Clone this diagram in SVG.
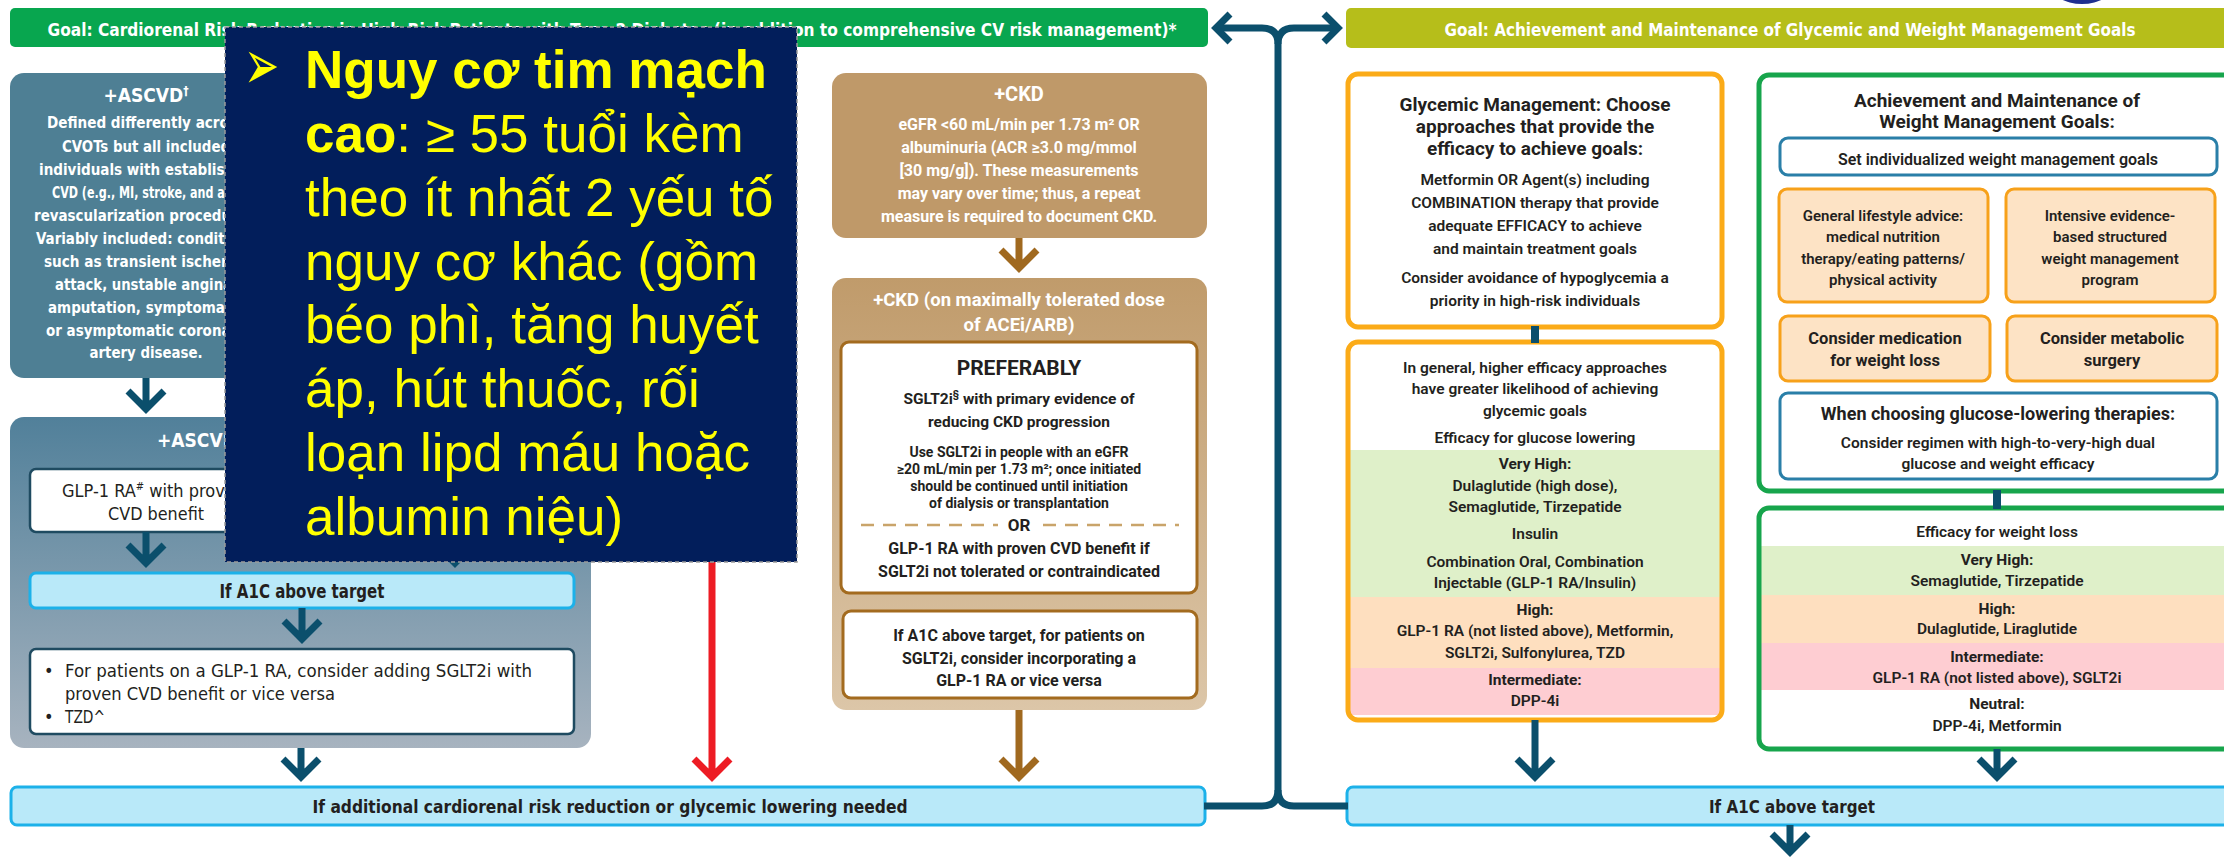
<svg xmlns="http://www.w3.org/2000/svg" width="2224" height="861" viewBox="0 0 2224 861">
<defs>
<linearGradient id="gAscvd" x1="0" y1="0" x2="0" y2="1"><stop offset="0" stop-color="#51809a"/><stop offset="1" stop-color="#a7b3bf"/></linearGradient>
<linearGradient id="gCkd" x1="0" y1="0" x2="0" y2="1"><stop offset="0" stop-color="#c09b6b"/><stop offset="1" stop-color="#dcc6a8"/></linearGradient>
<style>
.cond{font-family:"Liberation Sans Narrow","DejaVu Sans Condensed","Liberation Sans",sans-serif;font-stretch:condensed;font-weight:700}
.nr{font-weight:400}
.din{font-family:Roboto,"Liberation Sans",sans-serif}
.w{fill:#fff}
.k{fill:#231f20}
.b{font-weight:700}
.m{font-weight:600}
.mid{text-anchor:middle}
.tl{fill:none;stroke:#0b4f6c;stroke-width:7;stroke-linejoin:miter}
.red{fill:none;stroke:#ed1c24;stroke-width:7;stroke-linejoin:miter}
.brn{fill:none;stroke:#a0691f;stroke-width:7;stroke-linejoin:miter}
.bar{fill:#b9e9f9;stroke:#1cb1e9;stroke-width:3}
.wbox{fill:#fff;stroke:#1f4b61;stroke-width:2.5}
.cbox{fill:#fff;stroke:#a36b1f;stroke-width:3}
.obox{fill:#fde3c5;stroke:#f7a11a;stroke-width:3}
.bbox{fill:#fff;stroke:#2a7fa8;stroke-width:3}
.gly{fill:none;stroke:#fbab18;stroke-width:5}
.grn{fill:none;stroke:#17a54c;stroke-width:5}
.ov{font-family:"Liberation Sans",Arial,sans-serif;fill:#ffff00;font-size:53px}
</style>
</defs>
<rect width="2224" height="861" fill="#fff"/>

<ellipse cx="2082" cy="-16" rx="32" ry="20" fill="#1f2f8f"/>

<g id="goal-cardiorenal">
<rect x="10" y="8" width="1198" height="39" rx="5" fill="#08a64f"/>
<text class="cond w mid" x="612" y="36" font-size="17" textLength="1129" lengthAdjust="spacingAndGlyphs">Goal: Cardiorenal Risk Reduction in High-Risk Patients with Type 2 Diabetes (in addition to comprehensive CV risk management)*</text>
</g>

<g id="goal-glycemic-weight">
<rect x="1346" y="8" width="900" height="40" rx="5" fill="#b6be1a"/>
<text class="cond w mid" x="1790" y="36" font-size="17" textLength="691" lengthAdjust="spacingAndGlyphs">Goal: Achievement and Maintenance of Glycemic and Weight Management Goals</text>
</g>

<g id="ascvd">
<rect x="10" y="73" width="272" height="305" rx="14" fill="#4e7f94"/>
<text class="cond w mid" x="146" y="102" font-size="19">+ASCVD<tspan font-size="12" dy="-7">†</tspan></text>
<g class="cond w mid" font-size="16">
<text x="146" y="128" textLength="198" lengthAdjust="spacingAndGlyphs">Defined differently across</text>
<text x="146" y="152" textLength="168" lengthAdjust="spacingAndGlyphs">CVOTs but all included</text>
<text x="146" y="175" textLength="214" lengthAdjust="spacingAndGlyphs">individuals with established</text>
<text x="146" y="198" textLength="188" lengthAdjust="spacingAndGlyphs">CVD (e.g., MI, stroke, and any</text>
<text x="146" y="221" textLength="224" lengthAdjust="spacingAndGlyphs">revascularization procedure).</text>
<text x="146" y="244" textLength="220" lengthAdjust="spacingAndGlyphs">Variably included: conditions</text>
<text x="146" y="267" textLength="204" lengthAdjust="spacingAndGlyphs">such as transient ischemic</text>
<text x="146" y="290" textLength="182" lengthAdjust="spacingAndGlyphs">attack, unstable angina,</text>
<text x="146" y="313" textLength="196" lengthAdjust="spacingAndGlyphs">amputation, symptomatic</text>
<text x="146" y="336" textLength="200" lengthAdjust="spacingAndGlyphs">or asymptomatic coronary</text>
<text x="146" y="358" textLength="113" lengthAdjust="spacingAndGlyphs">artery disease.</text>
</g>
</g>

<g id="ascvd-high-risk">
<rect x="10" y="417" width="581" height="331" rx="14" fill="url(#gAscvd)"/>
<text class="cond w" x="157" y="447" font-size="19">+ASCVD/Indicators of High Risk</text>
</g>

<g id="glp1-cvd">
<rect class="wbox" x="30" y="469" width="252" height="63" rx="6"/>
<text class="cond nr k" x="62" y="497" font-size="18">GLP-1 RA<tspan font-size="11" dy="-7">#</tspan><tspan dy="7"> with proven</tspan></text>
<text class="cond nr k mid" x="156" y="520" font-size="18" textLength="96" lengthAdjust="spacingAndGlyphs">CVD benefit</text>
</g>

<g id="ascvd-a1c">
<rect class="bar" x="30" y="573" width="544" height="35" rx="6"/>
<text class="cond k mid" x="302" y="598" font-size="19" textLength="165" lengthAdjust="spacingAndGlyphs">If A1C above target</text>
</g>

<g id="ascvd-add">
<rect class="wbox" x="30" y="649" width="544" height="85" rx="6"/>
<g class="cond nr k" font-size="18">
<text x="44" y="677">•</text>
<text x="65" y="677" textLength="467" lengthAdjust="spacingAndGlyphs">For patients on a GLP-1 RA, consider adding SGLT2i with</text>
<text x="65" y="700" textLength="270" lengthAdjust="spacingAndGlyphs">proven CVD benefit or vice versa</text>
<text x="44" y="723">•</text>
<text x="65" y="723" textLength="40" lengthAdjust="spacingAndGlyphs">TZD^</text>
</g>
</g>

<g id="ckd">
<rect x="832" y="73" width="375" height="165" rx="14" fill="#bf9969"/>
<text class="din b w mid" x="1019" y="101" font-size="20">+CKD</text>
<g class="din b w mid" font-size="16">
<text x="1019" y="130">eGFR &lt;60 mL/min per 1.73 m² OR</text>
<text x="1019" y="153">albuminuria (ACR ≥3.0 mg/mmol</text>
<text x="1019" y="176">[30 mg/g]). These measurements</text>
<text x="1019" y="199">may vary over time; thus, a repeat</text>
<text x="1019" y="222">measure is required to document CKD.</text>
</g>
</g>

<g id="ckd-acei">
<rect x="832" y="278" width="375" height="432" rx="14" fill="url(#gCkd)"/>
<text class="din b w mid" x="1019" y="306" font-size="18.5">+CKD (on maximally tolerated dose</text>
<text class="din b w mid" x="1019" y="331" font-size="18.5">of ACEi/ARB)</text>
</g>

<g id="ckd-preferably">
<rect class="cbox" x="841" y="342" width="356" height="251" rx="8"/>
<text class="din b k mid" x="1019" y="375" font-size="21">PREFERABLY</text>
<text class="din b k mid" x="1019" y="404" font-size="15.5">SGLT2i<tspan font-size="10" dy="-6">§</tspan><tspan dy="6"> with primary evidence of</tspan></text>
<text class="din b k mid" x="1019" y="427" font-size="15.5">reducing CKD progression</text>
<g class="din b k mid" font-size="14">
<text x="1019" y="457">Use SGLT2i in people with an eGFR</text>
<text x="1019" y="474">≥20 mL/min per 1.73 m²; once initiated</text>
<text x="1019" y="491">should be continued until initiation</text>
<text x="1019" y="508">of dialysis or transplantation</text>
</g>
<line x1="861" y1="525" x2="998" y2="525" stroke="#c9a46a" stroke-width="2.5" stroke-dasharray="13 9"/>
<line x1="1043" y1="525" x2="1179" y2="525" stroke="#c9a46a" stroke-width="2.5" stroke-dasharray="13 9"/>
<text class="din b k mid" x="1019" y="531" font-size="17">OR</text>
<text class="din b k mid" x="1019" y="554" font-size="16">GLP-1 RA with proven CVD benefit if</text>
<text class="din b k mid" x="1019" y="577" font-size="16">SGLT2i not tolerated or contraindicated</text>
</g>

<g id="ckd-a1c">
<rect class="cbox" x="843" y="611" width="354" height="87" rx="8"/>
<g class="din b k mid" font-size="16">
<text x="1019" y="641">If A1C above target, for patients on</text>
<text x="1019" y="664">SGLT2i, consider incorporating a</text>
<text x="1019" y="686">GLP-1 RA or vice versa</text>
</g>
</g>

<g id="glycemic-management">
<rect x="1348" y="74" width="374" height="253" rx="10" fill="#fff"/>
<rect class="gly" x="1348" y="74" width="374" height="253" rx="10"/>
<g class="din b k mid" font-size="19">
<text x="1535" y="111">Glycemic Management: Choose</text>
<text x="1535" y="133">approaches that provide the</text>
<text x="1535" y="155">efficacy to achieve goals:</text>
</g>
<g class="din m k mid" font-size="15.5">
<text x="1535" y="185">Metformin OR Agent(s) including</text>
<text x="1535" y="208">COMBINATION therapy that provide</text>
<text x="1535" y="231">adequate EFFICACY to achieve</text>
<text x="1535" y="254">and maintain treatment goals</text>
<text x="1535" y="283">Consider avoidance of hypoglycemia a</text>
<text x="1535" y="306">priority in high-risk individuals</text>
</g>
</g>

<g id="glucose-efficacy">
<rect x="1348" y="342" width="374" height="378" rx="10" fill="#fff"/>
<rect x="1350" y="450" width="370" height="147" fill="#dff0c9"/>
<rect x="1350" y="597" width="370" height="71" fill="#fedfbf"/>
<rect x="1350" y="668" width="370" height="47" fill="#fecdd2"/>
<rect class="gly" x="1348" y="342" width="374" height="378" rx="10"/>
<g class="din m k mid" font-size="15.5">
<text x="1535" y="373">In general, higher efficacy approaches</text>
<text x="1535" y="394">have greater likelihood of achieving</text>
<text x="1535" y="416">glycemic goals</text>
<text x="1535" y="443">Efficacy for glucose lowering</text>
<text x="1535" y="469" class="b">Very High:</text>
<text x="1535" y="491">Dulaglutide (high dose),</text>
<text x="1535" y="512">Semaglutide, Tirzepatide</text>
<text x="1535" y="539">Insulin</text>
<text x="1535" y="567">Combination Oral, Combination</text>
<text x="1535" y="588">Injectable (GLP-1 RA/Insulin)</text>
<text x="1535" y="615" class="b">High:</text>
<text x="1535" y="636">GLP-1 RA (not listed above), Metformin,</text>
<text x="1535" y="658">SGLT2i, Sulfonylurea, TZD</text>
<text x="1535" y="685" class="b">Intermediate:</text>
<text x="1535" y="706">DPP-4i</text>
</g>
</g>

<g id="weight-management">
<rect x="1759" y="75" width="480" height="416" rx="10" fill="#fff"/>
<rect class="grn" x="1759" y="75" width="480" height="416" rx="10"/>
<text class="din b k mid" x="1997" y="107" font-size="19">Achievement and Maintenance of</text>
<text class="din b k mid" x="1997" y="128" font-size="19">Weight Management Goals:</text>
</g>

<g id="set-goals">
<rect class="bbox" x="1780" y="138" width="437" height="37" rx="8"/>
<text class="din m k mid" x="1998" y="165" font-size="16">Set individualized weight management goals</text>
</g>

<g id="lifestyle">
<rect class="obox" x="1779" y="189" width="209" height="113" rx="8"/>
<g class="din m k mid" font-size="15">
<text x="1883" y="221">General lifestyle advice:</text>
<text x="1883" y="242">medical nutrition</text>
<text x="1883" y="264">therapy/eating patterns/</text>
<text x="1883" y="285">physical activity</text>
</g>
</g>

<g id="intensive">
<rect class="obox" x="2006" y="189" width="209" height="113" rx="8"/>
<g class="din m k mid" font-size="15">
<text x="2110" y="221">Intensive evidence-</text>
<text x="2110" y="242">based structured</text>
<text x="2110" y="264">weight management</text>
<text x="2110" y="285">program</text>
</g>
</g>

<g id="medication">
<rect class="obox" x="1780" y="316" width="210" height="65" rx="8"/>
<text class="din b k mid" x="1885" y="344" font-size="16.5">Consider medication</text>
<text class="din b k mid" x="1885" y="366" font-size="16.5">for weight loss</text>
</g>

<g id="metabolic-surgery">
<rect class="obox" x="2007" y="316" width="210" height="65" rx="8"/>
<text class="din b k mid" x="2112" y="344" font-size="16.5">Consider metabolic</text>
<text class="din b k mid" x="2112" y="366" font-size="16.5">surgery</text>
</g>

<g id="choosing-therapies">
<rect class="bbox" x="1780" y="393" width="437" height="86" rx="8"/>
<text class="din b k mid" x="1998" y="420" font-size="18">When choosing glucose-lowering therapies:</text>
<text class="din m k mid" x="1998" y="448" font-size="15.5">Consider regimen with high-to-very-high dual</text>
<text class="din m k mid" x="1998" y="469" font-size="15.5">glucose and weight efficacy</text>
</g>

<g id="weight-efficacy">
<rect x="1759" y="508" width="480" height="241" rx="10" fill="#fff"/>
<rect x="1761" y="546" width="470" height="49" fill="#dff0c9"/>
<rect x="1761" y="595" width="470" height="48" fill="#fedfbf"/>
<rect x="1761" y="643" width="470" height="47" fill="#fecdd2"/>
<rect class="grn" x="1759" y="508" width="480" height="241" rx="10"/>
<g class="din m k mid" font-size="15.5">
<text x="1997" y="537">Efficacy for weight loss</text>
<text x="1997" y="565" class="b">Very High:</text>
<text x="1997" y="586">Semaglutide, Tirzepatide</text>
<text x="1997" y="614" class="b">High:</text>
<text x="1997" y="634">Dulaglutide, Liraglutide</text>
<text x="1997" y="662" class="b">Intermediate:</text>
<text x="1997" y="683">GLP-1 RA (not listed above), SGLT2i</text>
<text x="1997" y="709" class="b">Neutral:</text>
<text x="1997" y="731">DPP-4i, Metformin</text>
</g>
</g>

<g id="additional-reduction">
<rect class="bar" x="11" y="787" width="1194" height="38" rx="6"/>
<text class="cond k mid" x="610" y="813" font-size="18" textLength="595" lengthAdjust="spacingAndGlyphs">If additional cardiorenal risk reduction or glycemic lowering needed</text>
</g>

<g id="right-a1c">
<rect class="bar" x="1347" y="787" width="890" height="38" rx="6"/>
<text class="cond k mid" x="1792" y="813" font-size="18" textLength="166" lengthAdjust="spacingAndGlyphs">If A1C above target</text>
</g>

<g id="connectors">
<path class="tl" d="M146,378 V409 M128,391 L146,409 L164,391"/>
<path class="tl" d="M146,532 V563 M128,545 L146,563 L164,545"/>
<path class="tl" d="M455,530 V563 M437,545 L455,563 L473,545"/>
<path class="tl" d="M302,608 V639 M284,621 L302,639 L320,621"/>
<path class="tl" d="M301,748 V777 M283,759 L301,777 L319,759"/>
<path class="red" d="M712,560 V777 M694,759 L712,777 L730,759"/>
<path class="brn" d="M1019,238 V268 M1001,250 L1019,268 L1037,250"/>
<path class="brn" d="M1019,710 V777 M1001,759 L1019,777 L1037,759"/>
<rect x="1531" y="326" width="8" height="17" fill="#0b4f6c"/>
<rect x="1993" y="490" width="8" height="19" fill="#0b4f6c"/>
<path class="tl" d="M1535,720 V777 M1517,759 L1535,777 L1553,759"/>
<path class="tl" d="M1997,749 V777 M1979,759 L1997,777 L2015,759"/>
<path class="tl" d="M1790,825 V852 M1772,834 L1790,852 L1808,834"/>
<path class="tl" d="M1218,28 H1262 Q1278,28 1278,44 V790 Q1278,806 1262,806 H1204"/>
<path class="tl" d="M1336,28 H1294 Q1278,28 1278,44 M1278,790 Q1278,806 1294,806 H1348"/>
<path class="tl" d="M1230,14 L1216,28 L1230,42"/>
<path class="tl" d="M1324,14 L1338,28 L1324,42"/>
</g>

<g id="risk-overlay">
<rect x="225" y="27" width="572" height="535" fill="#021e5b" stroke="#9a9a9a" stroke-width="1.5" stroke-dasharray="4 3"/>
<text transform="translate(244,89) scale(0.6,1)" font-family="DejaVu Sans,sans-serif" font-size="70" font-weight="700" fill="#ffff00">➢</text>
<text class="ov" x="305" y="88" font-weight="700">Nguy cơ tim mạch</text>
<text class="ov" x="305" y="152"><tspan font-weight="700">cao</tspan>: ≥ 55 tuổi kèm</text>
<text class="ov" x="305" y="216">theo ít nhất 2 yếu tố</text>
<text class="ov" x="305" y="280">nguy cơ khác (gồm</text>
<text class="ov" x="305" y="343">béo phì, tăng huyết</text>
<text class="ov" x="305" y="407">áp, hút thuốc, rối</text>
<text class="ov" x="305" y="471">loạn lipd máu hoặc</text>
<text class="ov" x="305" y="535">albumin niệu)</text>
</g>
</svg>
